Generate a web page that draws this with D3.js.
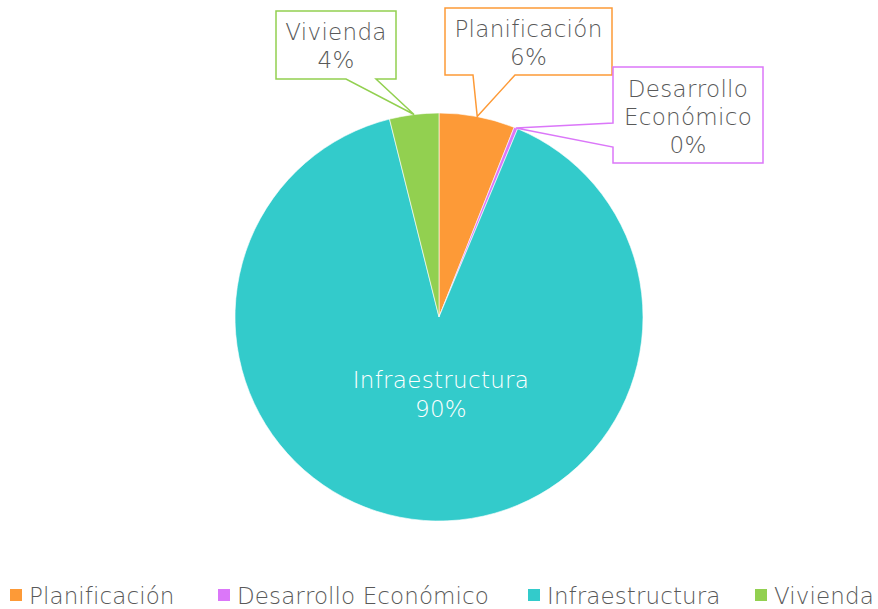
<!DOCTYPE html>
<html>
<head>
<meta charset="utf-8">
<script src="https://cdn.jsdelivr.net/npm/d3@7/dist/d3.min.js"></script>
<style>
  html, body { margin: 0; padding: 0; background: #fff; }
  svg text { font-family: "DejaVu Sans", "Lato", sans-serif; font-weight: 200; letter-spacing: 0.3px; }
  svg text.legend-label { letter-spacing: 0.1px; }
</style>
</head>
<body>
<svg id="chart" width="878" height="609"></svg>
<script>
// Budget share by area
const categories = ["Planificación", "Desarrollo Económico", "Infraestructura", "Vivienda"];
const values = [6.0, 0.3, 89.8, 3.9];
const percentLabels = ["6%", "0%", "90%", "4%"];
const colors = ["#FD9A37", "#DB77F9", "#33CBCB", "#92D050"];

const W = 878, H = 609;
const cx = 439, cy = 317, R = 204;
const textColor = "#595959";
const fs = 23;

const svg = d3.select("#chart");
const g = svg.append("g").attr("transform", `translate(${cx},${cy})`);

const pie = d3.pie().sort(null).value(d => d.v);
const data = categories.map((c, i) => ({ c, v: values[i], p: percentLabels[i], col: colors[i] }));
const arcs = pie(data);
const arc = d3.arc().innerRadius(0).outerRadius(R);
const rim = d3.arc().innerRadius(R).outerRadius(R);

g.selectAll("path.slice")
  .data(arcs)
  .enter().append("path")
  .attr("class", "slice")
  .attr("d", arc)
  .attr("fill", d => d.data.col)
  .attr("stroke", "#fff")
  .attr("stroke-width", 0.6);

// Inside label for the dominant slice
const big = arcs[2];
const innerLbl = svg.append("text")
  .attr("x", 441).attr("text-anchor", "middle")
  .attr("fill", "#fff").attr("font-size", fs);
innerLbl.append("tspan").attr("x", 441).attr("y", 388).text(big.data.c);
innerLbl.append("tspan").attr("x", 441).attr("y", 417).text(big.data.p);

// Callout boxes: rectangle + pointer toward the rim at the slice mid-angle
const callouts = [
  { i: 0, box: [445, 8, 612, 75], side: "bottom", base: [473, 515], lines: ["Planificación"] , ys: [37, 65] },
  { i: 1, box: [613, 67, 763, 163], side: "left", base: [123, 147], lines: ["Desarrollo", "Económico"], ys: [97, 125, 153] },
  { i: 3, box: [276, 11, 396, 79], side: "bottom", base: [346, 376], lines: ["Vivienda"], ys: [40, 68] }
];

callouts.forEach(co => {
  const a = arcs[co.i];
  const c = rim.centroid(a);
  const tip = [cx + c[0], cy + c[1]];
  const [x0, y0, x1, y1] = co.box;
  const p = d3.path();
  if (co.side === "bottom") {
    p.moveTo(x0, y0); p.lineTo(x1, y0); p.lineTo(x1, y1);
    p.lineTo(co.base[1], y1); p.lineTo(tip[0], tip[1]); p.lineTo(co.base[0], y1);
    p.lineTo(x0, y1); p.closePath();
  } else {
    p.moveTo(x0, y0); p.lineTo(x1, y0); p.lineTo(x1, y1); p.lineTo(x0, y1);
    p.lineTo(x0, co.base[1]); p.lineTo(tip[0], tip[1]); p.lineTo(x0, co.base[0]);
    p.closePath();
  }
  svg.append("path").attr("d", p.toString())
    .attr("fill", "#fff").attr("stroke", a.data.col).attr("stroke-width", 1.5)
    .attr("stroke-linejoin", "miter");
  const mx = (x0 + x1) / 2;
  const t = svg.append("text").attr("text-anchor", "middle")
    .attr("fill", textColor).attr("font-size", fs);
  const lines = co.lines.concat([a.data.p]);
  lines.forEach((s, k) => t.append("tspan").attr("x", mx).attr("y", co.ys[k]).text(s));
});

// Legend
const legendX = [10, 218, 528, 755];
const lg = svg.append("g");
data.forEach((d, i) => {
  lg.append("rect").attr("x", legendX[i]).attr("y", 589).attr("width", 12).attr("height", 12)
    .attr("fill", d.col);
  lg.append("text").attr("class", "legend-label").attr("x", legendX[i] + 19).attr("y", 604)
    .attr("fill", textColor).attr("font-size", fs).text(d.c);
});
</script>
</body>
</html>
